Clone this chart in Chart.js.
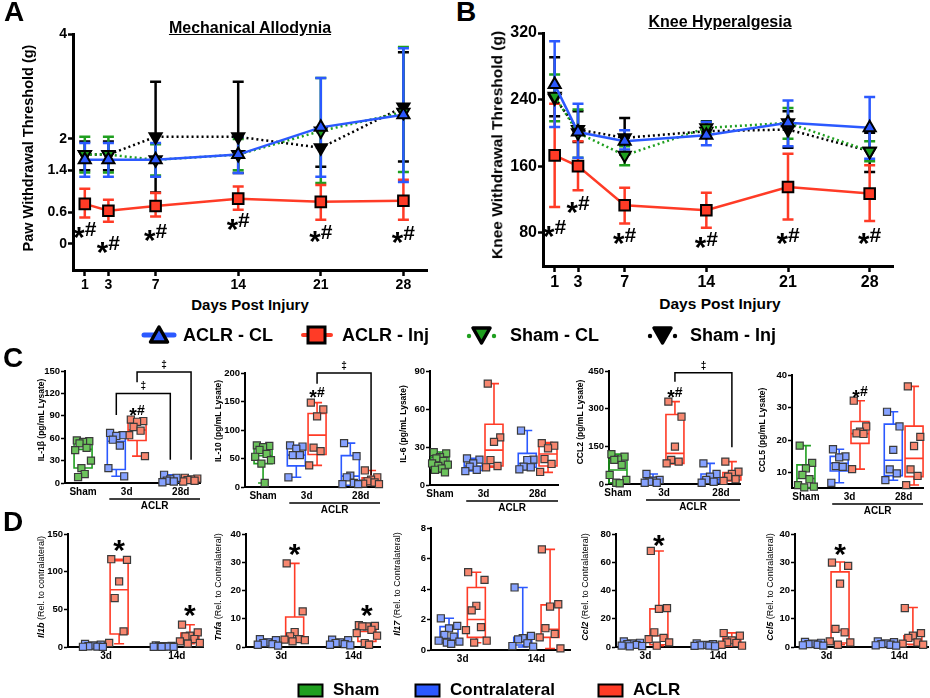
<!DOCTYPE html>
<html>
<head>
<meta charset="utf-8">
<script src="https://cdn.jsdelivr.net/npm/chart.js@4.4.0/dist/chart.umd.min.js"></script>
<style>
  body { margin: 0; width: 930px; height: 698px; position: relative; overflow: hidden; background: #fff;
         font-family: "Liberation Sans", Arial, sans-serif; color: #000; }
  canvas { position: absolute; }
  .t { position: absolute; white-space: nowrap; font-weight: bold; line-height: 1; z-index: 2; }
  .ctr { transform: translate(-50%, 0); }
  .rot { transform: translate(-50%, -50%) rotate(-90deg); }
  .n { font-weight: normal; }
  svg { position: absolute; }
</style>
</head>
<body>
<div class="t" style="left:4px;top:-2px;font-size:28px">A</div>
<div class="t" style="left:456px;top:-2px;font-size:28px">B</div>
<div class="t" style="left:3px;top:344px;font-size:28px">C</div>
<div class="t" style="left:3px;top:508px;font-size:28px">D</div>

<div class="t ctr" style="left:250px;top:20px;font-size:16px;text-decoration:underline">Mechanical Allodynia</div>
<div class="t ctr" style="left:720px;top:14px;font-size:16px;text-decoration:underline">Knee Hyperalgesia</div>
<div class="t rot" style="left:28px;top:148px;font-size:14.5px">Paw Withdrawal Threshold (g)</div>
<div class="t rot" style="left:497px;top:145px;font-size:15.5px">Knee Withdrawal Threshold (g)</div>
<div class="t ctr" style="left:250px;top:297px;font-size:15px">Days Post Injury</div>
<div class="t ctr" style="left:720px;top:296px;font-size:15.5px">Days Post Injury</div>

<!-- legend for A and B -->
<svg style="left:140px;top:324px" width="40" height="22">
  <line x1="4" y1="11" x2="34" y2="11" stroke="#2b59ff" stroke-width="5" stroke-linecap="round"/>
  <polygon points="19,3 27.5,18 10.5,18" fill="#2b59ff" stroke="#000" stroke-width="3.5" stroke-linejoin="round"/>
</svg>
<div class="t" style="left:183px;top:326px;font-size:18px">ACLR - CL</div>
<svg style="left:300px;top:324px" width="34" height="22">
  <line x1="3" y1="11" x2="31" y2="11" stroke="#ff3b26" stroke-width="4" stroke-linecap="round"/>
  <rect x="8" y="3" width="17" height="16" fill="#ff3b26" stroke="#000" stroke-width="3"/>
</svg>
<div class="t" style="left:342px;top:326px;font-size:18px">ACLR - Inj</div>
<svg style="left:465px;top:324px" width="34" height="22">
  <circle cx="4" cy="12" r="2.2" fill="#1f9f1f"/><circle cx="29" cy="12" r="2.2" fill="#1f9f1f"/>
  <polygon points="8,4 25,4 16.5,19" fill="#1f9f1f" stroke="#000" stroke-width="3.5" stroke-linejoin="round"/>
</svg>
<div class="t" style="left:510px;top:326px;font-size:18px">Sham - CL</div>
<svg style="left:646px;top:324px" width="34" height="22">
  <circle cx="4" cy="12" r="2.2" fill="#000"/><circle cx="29" cy="12" r="2.2" fill="#000"/>
  <polygon points="8,4 25,4 16.5,19" fill="#000" stroke="#000" stroke-width="3.5" stroke-linejoin="round"/>
</svg>
<div class="t" style="left:690px;top:326px;font-size:18px">Sham - Inj</div>

<!-- y titles for C -->
<div class="t rot" style="left:41px;top:420px;font-size:8.5px">IL-1β (pg/mL Lysate)</div>
<div class="t rot" style="left:218px;top:421px;font-size:8.5px">IL-10 (pg/mL Lysate)</div>
<div class="t rot" style="left:403px;top:424px;font-size:8.5px">IL-6 (pg/mL Lysate)</div>
<div class="t rot" style="left:580px;top:422px;font-size:8.5px">CCL2 (pg/mL Lysate)</div>
<div class="t rot" style="left:762px;top:430px;font-size:8.5px">CCL5 (pg/mL Lysate)</div>

<!-- y titles for D -->
<div class="t rot" style="left:41px;top:587px;font-size:9px"><i>Il1b</i><span class="n"> (Rel. to contralateral)</span></div>
<div class="t rot" style="left:218px;top:587px;font-size:9px"><i>Tnfa</i><span class="n"> (Rel. to Contralateral)</span></div>
<div class="t rot" style="left:397px;top:584px;font-size:9px"><i>Il17</i><span class="n"> (Rel. to Contralateral)</span></div>
<div class="t rot" style="left:585px;top:587px;font-size:9px"><i>Ccl2</i><span class="n"> (Rel. to Contralateral)</span></div>
<div class="t rot" style="left:770px;top:587px;font-size:9px"><i>Ccl5</i><span class="n"> (Rel. to Contralateral)</span></div>

<!-- bottom legend -->
<svg style="left:297px;top:683px" width="28" height="16"><rect x="1.5" y="1.5" width="24" height="12" fill="#1f9f1f" stroke="#000" stroke-width="2"/></svg>
<div class="t" style="left:333px;top:681px;font-size:17px">Sham</div>
<svg style="left:414px;top:683px" width="28" height="16"><rect x="1.5" y="1.5" width="24" height="12" fill="#2b59ff" stroke="#000" stroke-width="2"/></svg>
<div class="t" style="left:450px;top:681px;font-size:17px">Contralateral</div>
<svg style="left:597px;top:683px" width="28" height="16"><rect x="1.5" y="1.5" width="24" height="12" fill="#ff3b26" stroke="#000" stroke-width="2"/></svg>
<div class="t" style="left:633px;top:681px;font-size:17px">ACLR</div>

<canvas id="cA"></canvas>
<canvas id="cB"></canvas>
<canvas id="c1"></canvas><canvas id="c2"></canvas><canvas id="c3"></canvas><canvas id="c4"></canvas><canvas id="c5"></canvas>
<canvas id="d1"></canvas><canvas id="d2"></canvas><canvas id="d3"></canvas><canvas id="d4"></canvas><canvas id="d5"></canvas>

<script>
// ---- data: panels A and B (mean, error bar low/high) ----
const days = [1, 3, 7, 14, 21, 28];
const pawTicks = [0, 0.6, 1.4, 2, 4];
const pawAclrCL = [1.6, 1.6, 1.6, 1.7, 2.22, 2.46];
const pawAclrCLLo = [1.28, 1.28, 1.28, 1.35, 1.28, 1.18];
const pawAclrCLHi = [1.92, 1.92, 1.92, 2.04, 3.16, 3.73];
const pawAclrInj = [0.76, 0.63, 0.72, 0.86, 0.8, 0.82];
const pawAclrInjLo = [0.5, 0.42, 0.52, 0.65, 0.46, 0.46];
const pawAclrInjHi = [1.05, 0.84, 0.97, 1.09, 1.12, 1.22];
const pawShamCL = [1.7, 1.7, 1.6, 1.7, 2.15, 2.51];
const pawShamCLLo = [1.36, 1.36, 1.3, 1.4, 1.16, 1.37];
const pawShamCLHi = [2.04, 2.04, 1.9, 2.0, 3.16, 3.75];
const pawShamInj = [1.7, 1.7, 2.04, 2.04, 1.83, 2.61];
const pawShamInjLo = [1.4, 1.4, 0.98, 1.35, 1.47, 1.57];
const pawShamInjHi = [1.95, 1.95, 3.09, 3.09, 2.2, 3.65];
const pawStarY = [0.3, 0.02, 0.25, 0.46, 0.23, 0.21];

const kneeTicks = [80, 160, 240, 320];
const kneeAclrCL = [258, 201, 190, 197, 212, 206];
const kneeAclrCLLo = [207, 170, 180, 185, 184, 169];
const kneeAclrCLHi = [310, 235, 203, 213, 239, 243];
const kneeAclrInj = [173, 160, 113, 107, 135, 127];
const kneeAclrInjLo = [111, 131, 91, 86, 96, 94];
const kneeAclrInjHi = [235, 190, 134, 128, 175, 161];
const kneeShamCL = [244, 200, 173, 206, 212, 178];
const kneeShamCLLo = [214, 170, 161, 200, 193, 166];
const kneeShamCLHi = [270, 228, 184, 213, 230, 190];
const kneeShamInj = [242, 204, 194, 202, 204, 178];
const kneeShamInjLo = [220, 189, 174, 196, 182, 153];
const kneeShamInjHi = [291, 226, 218, 214, 226, 200];
const kneeStarY = [87, 116, 78, 73, 78, 78];

// ---- data: panel C (groups: Sham, 3d CL, 3d Inj, 28d CL, 28d Inj) ----
// box rows are [min, q1, median, q3, max]
const il1bTicks = [0, 30, 60, 90, 120, 150];
const il1bPts = [[57, 56, 55, 53, 47, 44, 30, 20, 12, 8], [67, 64, 63, 58, 50, 20, 9], [85, 83, 82, 75, 70, 64, 36], [11, 7, 5, 3, 2, 1], [7, 6, 5, 4, 3, 2]];
const il1bBox = [[8, 20, 45, 57, 57], [9, 18, 56, 66, 67], [36, 57, 71, 82, 85], [1, 1.5, 3.5, 8, 11], [2, 3, 5, 6.5, 7]];
const il1bNotes = [[2, 98, '*#']];
const il1bBrackets = [[1, 3, 120, 91, 31], [2, 4, 148.7, 135, 31]];

const il10Ticks = [0, 50, 100, 150, 200];
const il10Pts = [[73, 72, 70, 65, 58, 53, 47, 41, 7], [73, 71, 67, 56, 56, 17], [148, 136, 124, 69, 63, 38], [77, 54, 20, 17, 7, 5, 5], [29, 17, 13, 10, 8, 6, 5]];
const il10Box = [[7, 41, 55, 73, 73], [17, 37, 56, 73, 73], [38, 57, 91, 129, 148], [3, 3, 19, 55, 77], [4, 4, 10, 16, 29]];
const il10Notes = [[2, 167, '*#']];
const il10Brackets = [[2, 4, 200, 181, 20.5]];

const il6Ticks = [0, 30, 60, 90];
const il6Pts = [[26, 25, 22, 21, 19, 17, 16, 15, 13, 12, 10], [21, 20, 17, 14.5, 12, 11], [80, 37.6, 34, 19.7, 15, 14], [43, 20, 19.7, 14.5, 14, 12.4], [33, 31, 29, 20.5, 16.6, 10.3]];
const il6Box = [[10, 13, 17, 22, 26], [11, 11.5, 15, 20, 21], [14, 15, 27.5, 48, 80], [12, 14, 17, 25, 43], [10, 15, 24.5, 33, 33.5]];

const ccl2Ticks = [0, 150, 300, 450];
const ccl2Pts = [[119, 109, 98, 96, 76, 36, 16, 5, 3], [40, 16, 13, 9, 5, 5], [328, 268, 149, 96, 89, 82], [82, 40, 29, 16, 9, 5], [89, 49, 40, 29, 19, 12]];
const ccl2Box = [[3, 5, 56, 98, 119], [3, 3, 12, 26, 40], [80, 82, 122, 277, 328], [5, 5, 18, 40, 82], [12, 16, 29, 46, 89]];
const ccl2Notes = [[2, 368, '*#']];
const ccl2Brackets = [[2, 4, 443, 407, 146]];

const ccl5Ticks = [10, 20, 30, 40];
const ccl5Pts = [[18.3, 13, 11.3, 9.3, 8, 6.2, 5.7, 5.5], [17.2, 15, 14.7, 12, 11.8, 6.9], [32.1, 24.2, 22.6, 22.1, 21.9, 11.1], [28.7, 24.2, 17, 11, 9.8, 7.7], [36.5, 21, 18.2, 11, 9, 6.2]];
const ccl5Box = [[5.3, 5.4, 8.2, 12.4, 18.3], [6.9, 10.5, 12.9, 15, 17.2], [11.1, 19, 22, 25.7, 32.1], [7.7, 9.1, 13.8, 24.9, 28.7], [6.2, 8.8, 14.4, 24.3, 36.5]];
const ccl5Notes = [[2, 35, '*#']];

// ---- data: panel D (groups: 3d CL, 3d ACLR, 14d CL, 14d ACLR) ----
const il1bGeneTicks = [0, 50, 100, 150];
const il1bGenePts = [[4, 3, 2, 1, 0.5, 0.3, 0.2], [116.5, 115.6, 87, 65, 20.7, 5.3], [2, 1.5, 1, 1, 0.5, 0.3, 0.2, 0.1], [29.6, 19.4, 15, 14, 10.6, 7.5, 5.3, 4.4]];
const il1bGeneBox = [[0.2, 0.5, 1, 2.5, 4], [4.4, 17.2, 76, 114.7, 116.5], [0.1, 0.3, 0.8, 1.5, 2], [4.4, 6.2, 12, 18.5, 29.6]];
const il1bGeneNotes = [[1, 137.6, '*'], [3, 51.6, '*']];

const tnfaTicks = [0, 10, 20, 30, 40];
const tnfaPts = [[2.8, 2.4, 1.6, 1.4, 1, 0.8, 0.5], [29.6, 12.6, 5.3, 3.8, 2.8, 2.6, 2.4, 2], [2.6, 2.4, 1.6, 1.4, 1, 0.8, 0.6], [7.7, 7.5, 7.3, 7.3, 6.1, 4.9, 4, 1.4, 0.8]];
const tnfaBox = [[0.3, 0.5, 1.2, 2.2, 2.8], [2, 2, 3.2, 10.6, 29.6], [0.6, 0.6, 1.2, 2.2, 2.6], [0.8, 2, 5.5, 7, 7.7]];
const tnfaNotes = [[1, 35.5, '*'], [3, 13.8, '*']];

const il17Ticks = [0, 2, 4, 6, 8];
const il17Pts = [[2.08, 1.58, 1.42, 0.99, 0.88, 0.61, 0.55, 0.48, 0.4], [5.1, 4.6, 2.9, 2.6, 1.5, 1.3, 0.61, 0.48], [4.1, 0.92, 0.77, 0.7, 0.44, 0.26, 0.22], [6.6, 3.0, 2.85, 1.43, 1.05, 0.83, 0.11]];
const il17Box = [[0.4, 0.48, 0.77, 1.53, 2.08], [0.48, 0.83, 2.0, 4.1, 5.1], [0.2, 0.33, 0.55, 0.83, 4.1], [0.1, 0.83, 1.36, 2.96, 6.6]];

const ccl2GeneTicks = [0, 20, 40, 60, 80];
const ccl2GenePts = [[4, 3, 2.5, 2, 1.5, 1, 0.7, 0.5], [68, 27.5, 27, 10.4, 6.4, 5.6, 3.3, 0.9], [2.5, 2, 1.5, 1.2, 1, 0.8, 0.5], [9.9, 8, 4.7, 3.3, 2.8, 1.6, 0.9]];
const ccl2GeneBox = [[0.3, 0.5, 1.2, 2.5, 4], [0.9, 1.6, 8, 27, 68], [0.5, 0.5, 1, 1.8, 2.5], [0.5, 0.5, 3.3, 6.4, 10]];
const ccl2GeneNotes = [[1, 77, '*']];

const ccl5GeneTicks = [0, 10, 20, 30, 40];
const ccl5GenePts = [[1.8, 1.5, 1.2, 1, 0.8, 0.6, 0.5], [29.9, 28.7, 22.4, 6.4, 5.2, 2, 1.6, 0.8], [2, 1.7, 1.3, 1, 0.8, 0.6, 0.5], [13.8, 4.9, 4, 3.2, 1.6, 1.2, 0.8]];
const ccl5GeneBox = [[0.5, 0.6, 1, 1.5, 1.8], [0.8, 1.4, 5.9, 26.6, 30.1], [0.5, 0.6, 1, 1.6, 2], [0.8, 1, 2.6, 4, 14]];
const ccl5GeneNotes = [[1, 35.3, '*']];

// ---- styling ----
const GREEN = '#1f9f1f', BLUE = '#2b59ff', RED = '#ff3b26';
const TINT = {};
TINT[GREEN] = '#6cc35c'; TINT[BLUE] = '#86a2ff'; TINT[RED] = '#f7876f';
const FONT = '"Liberation Sans", Arial, sans-serif';
Chart.defaults.font.family = FONT;
Chart.defaults.color = '#000';

const C_POS = [0, 1.6, 2.6, 4.2, 5.2];
const C_COL = [GREEN, BLUE, RED, BLUE, RED];
const C_LAB = [[0, 'Sham'], [2.1, '3d'], [4.7, '28d']];
const D_POS = [0, 1, 2.7, 3.7];
const D_COL = [BLUE, RED, BLUE, RED];
const D_LAB = [[0.5, '3d'], [3.2, '14d']];
const JIT = [-0.3, 0.3, 0, -0.17, 0.17, -0.38, 0.38, -0.08, 0.08, -0.24, 0.24];

function place(id, g) {
  const c = document.getElementById(id);
  const w = g.ar - g.ax + g.yw + g.pr, h = g.yb - g.yt + g.pt + g.xh;
  c.width = w; c.height = h;
  c.style.left = (g.ax - g.yw) + 'px';
  c.style.top = (g.yt - g.pt) + 'px';
  c.style.width = w + 'px'; c.style.height = h + 'px';
  return c;
}

function zeroPad(s) { s.paddingLeft = s.paddingRight = s.paddingTop = s.paddingBottom = 0; }

// '*' alone, or '*#' with a bigger, lowered asterisk like the original
function drawNote(ctx, px, py, text, size) {
  ctx.textBaseline = 'alphabetic';
  if (text === '*') {
    ctx.font = 'bold ' + size + 'px ' + FONT;
    ctx.textAlign = 'center';
    ctx.fillText('*', px, py + 0.56 * size);
    return;
  }
  const big = 'bold ' + (size * 1.4) + 'px ' + FONT, small = 'bold ' + size + 'px ' + FONT;
  ctx.font = big; const wa = ctx.measureText('*').width;
  ctx.font = small; const wh = ctx.measureText('#').width;
  const left = px - (wa + wh) / 2;
  const base = py + 0.36 * size;
  ctx.textAlign = 'left';
  ctx.font = big; ctx.fillText('*', left, base + 0.54 * size);
  ctx.font = small; ctx.fillText('#', left + wa, base);
}

// error bars + significance marks for the time course charts
function linePlugin(starY, starSize) {
  return {
    id: 'errbars',
    beforeDatasetsDraw(chart) {
      const { ctx, scales: { x, y } } = chart;
      const sets = chart.data.datasets.slice().reverse();
      ctx.save();
      ctx.lineWidth = 2.5;
      sets.forEach(ds => {
        ctx.strokeStyle = ds.borderColor;
        ds.data.forEach((p, i) => {
          const px = x.getPixelForValue(p.x);
          const y1 = y.getPixelForValue(ds.lo[i]), y2 = y.getPixelForValue(ds.hi[i]);
          ctx.beginPath();
          ctx.moveTo(px, y1); ctx.lineTo(px, y2);
          ctx.moveTo(px - 5.5, y1); ctx.lineTo(px + 5.5, y1);
          ctx.moveTo(px - 5.5, y2); ctx.lineTo(px + 5.5, y2);
          ctx.stroke();
        });
      });
      ctx.restore();
    },
    afterDatasetsDraw(chart) {
      const { ctx, scales: { x, y } } = chart;
      ctx.save();
      ctx.fillStyle = '#000';
      days.forEach((d, i) => drawNote(ctx, x.getPixelForValue(d), y.getPixelForValue(starY[i]), '*#', starSize));
      ctx.restore();
    }
  };
}

function lineChart(id, g, yMin, yMax, yTicks, series, starY, fs) {
  const c = place(id, g);
  new Chart(c, {
    type: 'line',
    data: {
      datasets: series.map(s => ({
        data: days.map((d, i) => ({ x: d, y: s.mean[i] })),
        lo: s.lo, hi: s.hi,
        borderColor: s.color, borderWidth: 2.5, borderDash: s.dash || [],
        pointStyle: s.shape, pointRotation: s.rot || 0, pointRadius: s.r,
        pointBackgroundColor: s.fill, pointBorderColor: '#000', pointBorderWidth: 2,
        tension: 0, clip: false
      }))
    },
    options: {
      responsive: false, animation: false, devicePixelRatio: 1,
      layout: { autoPadding: false, padding: { left: 0, top: g.pt, right: g.pr, bottom: 0 } },
      plugins: { legend: { display: false }, tooltip: { enabled: false } },
      scales: {
        x: {
          type: 'linear', min: 0, max: 30,
          afterBuildTicks: s => { s.ticks = days.map(v => ({ value: v })); },
          afterFit: s => { s.height = g.xh; zeroPad(s); },
          grid: { drawOnChartArea: false, drawTicks: true, tickLength: 6, tickWidth: 2.5, color: '#000' },
          border: { color: '#000', width: 3 },
          ticks: { font: { size: fs, weight: 'bold' }, padding: 1, maxRotation: 0, autoSkip: false }
        },
        y: {
          type: 'linear', min: yMin, max: yMax,
          afterBuildTicks: s => { s.ticks = yTicks.map(v => ({ value: v })); },
          afterFit: s => { s.width = g.yw; zeroPad(s); },
          grid: { drawOnChartArea: false, drawTicks: true, tickLength: 5, tickWidth: 2.5, color: '#000' },
          border: { color: '#000', width: 3 },
          ticks: { font: { size: fs, weight: 'bold' }, padding: 1, callback: v => String(v) }
        }
      }
    },
    plugins: [linePlugin(starY, 21)]
  });
}

// boxes, whiskers, brackets and labels for the dot/box charts
function boxPlugin(pos, colors, box, notes, brackets, aclr) {
  return {
    id: 'boxes',
    beforeDatasetsDraw(chart) {
      const { ctx, scales: { x, y } } = chart;
      ctx.save();
      ctx.lineWidth = 1.6;
      box.forEach((b, k) => {
        const cx = x.getPixelForValue(pos[k]);
        const [mn, q1, md, q3, mx] = b.map(v => y.getPixelForValue(v));
        ctx.strokeStyle = colors[k];
        ctx.beginPath();
        ctx.rect(cx - 9, q3, 18, q1 - q3);
        ctx.moveTo(cx - 9, md); ctx.lineTo(cx + 9, md);
        ctx.moveTo(cx, q3); ctx.lineTo(cx, mx);
        ctx.moveTo(cx, q1); ctx.lineTo(cx, mn);
        ctx.moveTo(cx - 5, mx); ctx.lineTo(cx + 5, mx);
        ctx.moveTo(cx - 5, mn); ctx.lineTo(cx + 5, mn);
        ctx.stroke();
      });
      ctx.restore();
    },
    afterDatasetsDraw(chart) {
      const { ctx, chartArea, scales: { x, y } } = chart;
      ctx.save();
      ctx.fillStyle = '#000'; ctx.strokeStyle = '#000'; ctx.lineWidth = 1.5;
      brackets.forEach(([a, b, top, l, r]) => {
        const xa = x.getPixelForValue(pos[a]), xb = x.getPixelForValue(pos[b]);
        const yt = y.getPixelForValue(top);
        ctx.beginPath();
        ctx.moveTo(xa, y.getPixelForValue(l)); ctx.lineTo(xa, yt);
        ctx.lineTo(xb, yt); ctx.lineTo(xb, y.getPixelForValue(r));
        ctx.stroke();
        ctx.font = 'bold 10px ' + FONT;
        ctx.textAlign = 'center'; ctx.textBaseline = 'middle';
        ctx.fillText('‡', (xa + xb) / 2, yt - 7);
      });
      notes.forEach(([k, v, t]) => drawNote(ctx, x.getPixelForValue(pos[k]), y.getPixelForValue(v), t, t === '*' ? 30 : 14));
      if (aclr) {
        const x1 = x.getPixelForValue(pos[1]) - 7, x2 = chartArea.right;
        const yl = chartArea.bottom + 16;
        ctx.beginPath(); ctx.moveTo(x1, yl); ctx.lineTo(x2, yl); ctx.stroke();
        ctx.font = 'bold 10px ' + FONT;
        ctx.textAlign = 'center'; ctx.textBaseline = 'middle';
        ctx.fillText('ACLR', (x1 + x2) / 2, yl + 7.5);
      }
      ctx.restore();
    }
  };
}

function boxChart(id, g, pos, colors, labels, pts, box, yTicks, notes, brackets, aclr) {
  const c = place(id, g);
  new Chart(c, {
    type: 'scatter',
    data: {
      datasets: pts.map((arr, k) => ({
        data: arr.map((v, i) => ({ x: pos[k] + JIT[i % JIT.length], y: v })),
        pointStyle: 'rect', pointRadius: 5,
        pointBackgroundColor: TINT[colors[k]], pointBorderColor: '#3a3a3a', pointBorderWidth: 1.2,
        clip: false
      }))
    },
    options: {
      responsive: false, animation: false, devicePixelRatio: 1,
      layout: { autoPadding: false, padding: { left: 0, top: g.pt, right: g.pr, bottom: 0 } },
      plugins: { legend: { display: false }, tooltip: { enabled: false } },
      scales: {
        x: {
          type: 'linear', min: g.xmin, max: g.xmax,
          afterBuildTicks: s => { s.ticks = labels.map(l => ({ value: l[0] })); },
          afterFit: s => { s.height = g.xh; zeroPad(s); },
          grid: { display: false, drawTicks: false },
          border: { color: '#000', width: 2 },
          ticks: { font: { size: 10, weight: 'bold' }, padding: 3.5, maxRotation: 0, autoSkip: false,
                   callback: (v, i) => labels[i][1] }
        },
        y: {
          type: 'linear', min: g.ymin, max: g.ymax,
          afterBuildTicks: s => { s.ticks = yTicks.map(v => ({ value: v })); },
          afterFit: s => { s.width = g.yw; zeroPad(s); },
          grid: { drawOnChartArea: false, drawTicks: true, tickLength: 4, tickWidth: 1.5, color: '#000' },
          border: { color: '#000', width: 2 },
          ticks: { font: { size: 9.5, weight: 'bold' }, padding: 1 }
        }
      }
    },
    plugins: [boxPlugin(pos, colors, box, notes || [], brackets || [], aclr)]
  });
}

// ---- panel A / B ----
lineChart('cA', { ax: 73, ar: 427, yt: 34, yb: 270, yw: 50, xh: 26, pt: 12, pr: 10 }, -0.5, 4, pawTicks, [
  { mean: pawAclrCL, lo: pawAclrCLLo, hi: pawAclrCLHi, color: BLUE, fill: BLUE, shape: 'triangle', r: 7 },
  { mean: pawAclrInj, lo: pawAclrInjLo, hi: pawAclrInjHi, color: RED, fill: RED, shape: 'rect', r: 7.5 },
  { mean: pawShamCL, lo: pawShamCLLo, hi: pawShamCLHi, color: GREEN, fill: GREEN, shape: 'triangle', rot: 180, r: 7, dash: [2, 3] },
  { mean: pawShamInj, lo: pawShamInjLo, hi: pawShamInjHi, color: '#000', fill: '#000', shape: 'triangle', rot: 180, r: 7, dash: [2, 3] }
], pawStarY, 14);

lineChart('cB', { ax: 543, ar: 893, yt: 33, yb: 266, yw: 44, xh: 26, pt: 12, pr: 10 }, 40, 320, kneeTicks, [
  { mean: kneeAclrCL, lo: kneeAclrCLLo, hi: kneeAclrCLHi, color: BLUE, fill: BLUE, shape: 'triangle', r: 7 },
  { mean: kneeAclrInj, lo: kneeAclrInjLo, hi: kneeAclrInjHi, color: RED, fill: RED, shape: 'rect', r: 7.5 },
  { mean: kneeShamCL, lo: kneeShamCLLo, hi: kneeShamCLHi, color: GREEN, fill: GREEN, shape: 'triangle', rot: 180, r: 7, dash: [2, 3] },
  { mean: kneeShamInj, lo: kneeShamInjLo, hi: kneeShamInjHi, color: '#000', fill: '#000', shape: 'triangle', rot: 180, r: 7, dash: [2, 3] }
], kneeStarY, 16);

// ---- panel C ----
const boxG = (ax, ar, yt, yb, xmin, xmax, ymin, ymax) => ({ ax, ar, yt, yb, xmin, xmax, ymin, ymax, yw: 28, xh: 36, pt: 30, pr: 6 });
boxChart('c1', boxG(65, 200, 371, 483, -0.87, 5.63, 0, 150), C_POS, C_COL, C_LAB, il1bPts, il1bBox, il1bTicks, il1bNotes, il1bBrackets, true);
boxChart('c2', boxG(245, 380, 373, 487, -0.87, 5.63, 0, 200), C_POS, C_COL, C_LAB, il10Pts, il10Box, il10Ticks, il10Notes, il10Brackets, true);
boxChart('c3', boxG(430, 558, 371, 485, -0.48, 5.68, 0, 90), C_POS, C_COL, C_LAB, il6Pts, il6Box, il6Ticks, [], [], true);
boxChart('c4', boxG(609, 740, 371, 484, -0.41, 5.57, 0, 450), C_POS, C_COL, C_LAB, ccl2Pts, ccl2Box, ccl2Ticks, ccl2Notes, ccl2Brackets, true);
boxChart('c5', boxG(792, 923, 375, 488, -0.67, 5.63, 5.3, 40), C_POS, C_COL, C_LAB, ccl5Pts, ccl5Box, ccl5Ticks, ccl5Notes, [], true);

// ---- panel D ----
boxChart('d1', boxG(68, 203, 534, 647, -0.95, 4.2, 0, 150), D_POS, D_COL, D_LAB, il1bGenePts, il1bGeneBox, il1bGeneTicks, il1bGeneNotes, [], false);
boxChart('d2', boxG(246, 380, 534, 647, -0.82, 4.19, 0, 40), D_POS, D_COL, D_LAB, tnfaPts, tnfaBox, tnfaTicks, tnfaNotes, [], false);
boxChart('d3', boxG(431, 570, 528, 650, -0.66, 4.43, 0, 8), D_POS, D_COL, D_LAB, il17Pts, il17Box, il17Ticks, [], [], false);
boxChart('d4', boxG(616, 745, 534, 647, -0.59, 4.19, 0, 80), D_POS, D_COL, D_LAB, ccl2GenePts, ccl2GeneBox, ccl2GeneTicks, ccl2GeneNotes, [], false);
boxChart('d5', boxG(795, 928, 534, 647, -0.67, 4.26, 0, 40), D_POS, D_COL, D_LAB, ccl5GenePts, ccl5GeneBox, ccl5GeneTicks, ccl5GeneNotes, [], false);
</script>
</body>
</html>
